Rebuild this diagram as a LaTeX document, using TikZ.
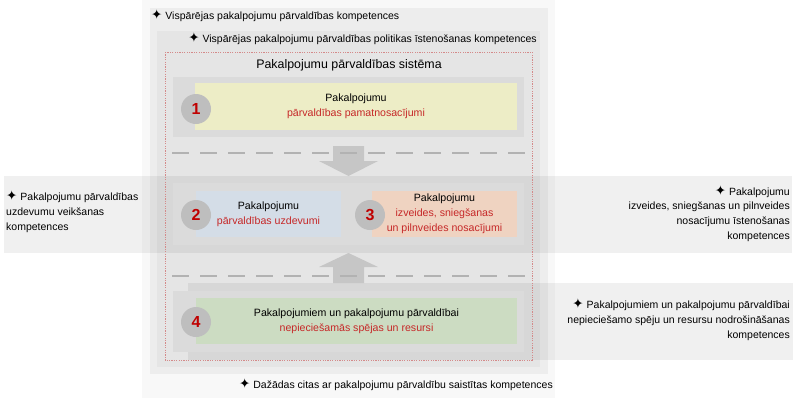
\documentclass[tikz,border=0pt]{standalone}
\usepackage{fontspec}
\setmainfont{Liberation Sans}
\newfontfamily\symfont{DejaVu Sans}
\newcommand{\mystar}{\smash{\symfont\fontsize{13.5}{13.5}\selectfont ✦}}
\definecolor{redtxt}{HTML}{C62828}
\definecolor{numred}{HTML}{C00000}
\definecolor{yelbox}{HTML}{EDEDC6}
\definecolor{blubox}{HTML}{D4DDE7}
\definecolor{orabox}{HTML}{EFD3C1}
\definecolor{grebox}{HTML}{CCDCC2}
\definecolor{rowbg}{HTML}{DBDBDB}
\definecolor{circc}{HTML}{BEBEBE}
\definecolor{arrowc}{HTML}{C6C6C6}
\definecolor{dashc}{HTML}{B2B2B2}
\definecolor{layerA}{HTML}{F8F8F8}
\definecolor{layerB}{HTML}{EDEDED}
\definecolor{layerC}{HTML}{E5E5E5}
\definecolor{redline}{HTML}{D48A8A}
\begin{document}
\begin{tikzpicture}[x=1pt,y=-1pt,
  txt/.style={font=\fontsize{10.5}{14.8}\selectfont, inner sep=0},
  band/.style={fill=black, fill opacity=0.06},
  rowback/.style={fill=rowbg, inner sep=0, minimum width=351},
  colbox/.style={inner sep=0, align=center, font=\fontsize{10.6}{14.8}\selectfont, minimum height=46},
  numc/.style={circle, fill=circc, minimum size=30, inner sep=0, text=numred, font=\fontsize{16}{16}\selectfont\bfseries},
  sepline/.style={draw=dashc, line width=1.3, dash pattern=on 17pt off 11pt},
  blockarrow/.style={fill=arrowc}]
\useasboundingbox (0,0) rectangle (800,402);
\fill[white] (0,0) rectangle (800,402);
% layered backgrounds
\fill[layerA] (142,0) rectangle (555,398);
\fill[layerB] (150,8) rectangle (548,374);
\fill[layerC] (157,31) rectangle (540,367);
% competence bands
\fill[band] (4,176) rectangle (792,253);
\fill[band] (188,283) rectangle (793,360);
% system frame
\draw[redline, line width=0.6, dash pattern=on 1.2pt off 1.2pt] (165,52) rectangle (532,360);
\node[font=\fontsize{12.4}{14}\selectfont, inner sep=0] (title) at (349,65) {Pakalpojumu pārvaldības sistēma};
% row 1
\node[rowback, minimum height=60] (r1) at (348.5,107) {};
\node[colbox, fill=yelbox, minimum width=322, minimum height=47] (b1) at (356,106.5) {Pakalpojumu\\\textcolor{redtxt}{pārvaldības pamatnosacījumi}};
\node[numc] (n1) at (196,109) {1};
% row 2
\node[rowback, minimum height=62] (r2) at (348.5,214) {};
\node[colbox, fill=blubox, minimum width=145] (b2) at (268.5,214) {Pakalpojumu\\\textcolor{redtxt}{pārvaldības uzdevumi}};
\node[colbox, fill=orabox, minimum width=145] (b3) at (444.5,214) {Pakalpojumu\\\textcolor{redtxt}{izveides, sniegšanas}\\\textcolor{redtxt}{un pilnveides nosacījumi}};
\node[numc] (n2) at (196,215) {2};
\node[numc] (n3) at (370,215) {3};
% row 4
\node[rowback, minimum height=61] (r4) at (348.5,321.5) {};
\node[colbox, fill=grebox, minimum width=321] (b4) at (356.5,321) {Pakalpojumiem un pakalpojumu pārvaldībai\\\textcolor{redtxt}{nepieciešamās spējas un resursi}};
\node[numc] (n4) at (196,322) {4};
% block arrows
\fill[blockarrow] (333,146) -- (364,146) -- (364,161) -- (378,161) -- (348.5,176) -- (319,161) -- (333,161) -- cycle;
\fill[blockarrow] (333,283) -- (364,283) -- (364,267) -- (378,267) -- (348.5,253) -- (319,267) -- (333,267) -- cycle;
% separators
\coordinate (s1a) at (172,153);
\coordinate (s1b) at (525,153);
\coordinate (s2a) at (172,276);
\coordinate (s2b) at (525,276);
\draw[sepline] (s1a) -- (s1b);
\draw[sepline] (s2a) -- (s2b);
% competence labels
\node[txt, anchor=west] (c0) at (151,17) {\mystar\ Vispārējas pakalpojumu pārvaldības kompetences};
\node[txt, anchor=east] (c1) at (537,40) {\mystar\ Vispārējas pakalpojumu pārvaldības politikas īstenošanas kompetences};
\node[txt, anchor=west, align=left] (c2) at (6,212.5) {\mystar\ Pakalpojumu pārvaldības\\uzdevumu veikšanas\\kompetences};
\node[txt, anchor=east, align=right] (c3) at (790,214.5) {\mystar\ Pakalpojumu\\izveides, sniegšanas un pilnveides\\nosacījumu īstenošanas\\kompetences};
\node[txt, anchor=east, align=right] (c4) at (790,320.5) {\mystar\ Pakalpojumiem un pakalpojumu pārvaldībai\\nepieciešamo spēju un resursu nodrošināšanas\\kompetences};
\node[txt, anchor=east] (c5) at (553,386) {\mystar\ Dažādas citas ar pakalpojumu pārvaldību saistītas kompetences};
\end{tikzpicture}
\end{document}
